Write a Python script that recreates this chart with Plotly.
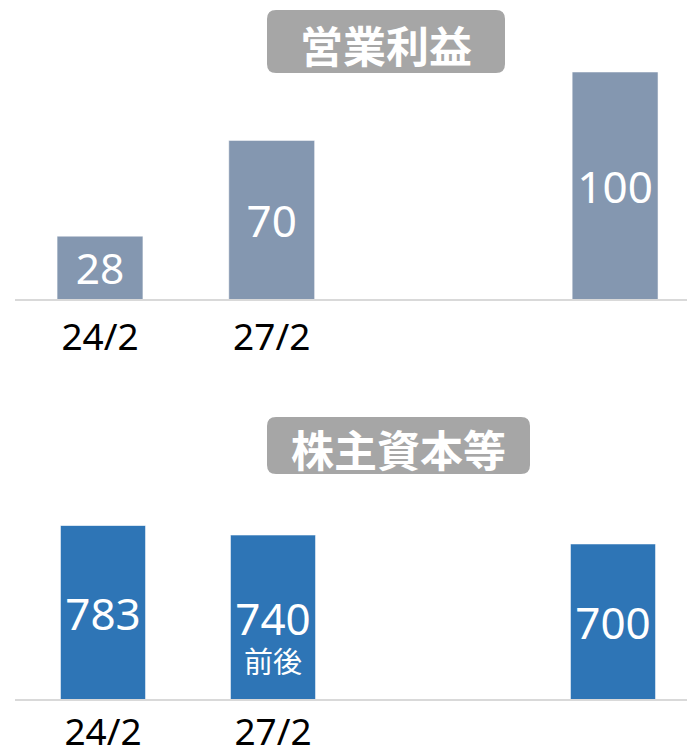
import plotly.graph_objects as go

# ---- data ----
slots = ["24/2", "27/2", "gap", "target"]          # category slots on the x axis
tick_labels = ["24/2", "27/2", "", ""]             # visible tick labels
bar_slots = ["24/2", "27/2", "target"]
op_profit = [28, 70, 100]                          # 営業利益
equity = [783, 740, 700]                           # 株主資本等
equity_notes = ["", "前後", ""]
titles = ["営業利益", "株主資本等"]

W, H = 687, 755
FONT = "Noto Sans, Noto Sans CJK JP, sans-serif"
CJK = "Noto Sans CJK JP, sans-serif"
TOP_COLOR = "#8497B0"
BOT_COLOR = "#2E75B6"
GRID = "#D9D9D9"


def px(x):
    return x / W


def py(y):
    return 1 - y / H


def rounded_rect(x0, y0, x1, y1, r):
    rx, ry = r / W, r / H
    X0, X1 = px(x0), px(x1)
    Y0, Y1 = py(y0), py(y1)  # Y0 top (greater), Y1 bottom
    return (f"M {X0+rx},{Y0} L {X1-rx},{Y0} Q {X1},{Y0} {X1},{Y0-ry} "
            f"L {X1},{Y1+ry} Q {X1},{Y1} {X1-rx},{Y1} "
            f"L {X0+rx},{Y1} Q {X0},{Y1} {X0},{Y1+ry} "
            f"L {X0},{Y0-ry} Q {X0},{Y0} {X0+rx},{Y0} Z")


fig = go.Figure()

fig.add_trace(go.Bar(
    x=bar_slots, y=op_profit, xaxis="x", yaxis="y",
    marker=dict(color=TOP_COLOR, line=dict(color="rgba(255,255,255,0.5)", width=1)),
    width=0.5,
    text=[str(v) for v in op_profit], textposition="inside",
    insidetextanchor="middle", textangle=0,
    textfont=dict(family=FONT, size=44, color="white"),
    cliponaxis=False, hoverinfo="skip",
))

fig.add_trace(go.Bar(
    x=bar_slots, y=equity, xaxis="x2", yaxis="y2",
    marker=dict(color=BOT_COLOR, line=dict(color="rgba(255,255,255,0.5)", width=1)),
    width=0.5,
    text=[str(v) for v in equity], textposition="inside",
    insidetextanchor="middle", textangle=0,
    textfont=dict(family=FONT, size=44, color="white"),
    cliponaxis=False, hoverinfo="skip",
))

xcommon = dict(
    type="category", categoryorder="array", categoryarray=slots,
    tickmode="array", tickvals=slots, ticktext=tick_labels,
    showgrid=False, zeroline=False, showline=False, ticks="",
    tickfont=dict(family=FONT, size=37, color="black"),
    fixedrange=True, automargin=False,
)

fig.update_layout(
    width=W, height=H, autosize=False,
    margin=dict(l=0, r=0, t=0, b=0, autoexpand=False),
    paper_bgcolor="white", plot_bgcolor="white",
    showlegend=False, bargap=0,
    xaxis=dict(xcommon, domain=[0, 1], range=[-100 / 171.7, (W - 100) / 171.7],
               anchor="y", ticklabelstandoff=12),
    yaxis=dict(domain=[py(300), py(72)], range=[0, max(op_profit)],
               visible=False, anchor="x", fixedrange=True, automargin=False),
    xaxis2=dict(xcommon, domain=[0, 1], range=[-103 / 170, (W - 103) / 170],
                anchor="y2", ticklabelstandoff=7),
    yaxis2=dict(domain=[py(700), py(525.5)], range=[0, max(equity)],
                visible=False, anchor="x2", fixedrange=True, automargin=False),
)

shapes = []
# baselines
for yb in (300, 700):
    shapes.append(dict(type="line", xref="paper", yref="paper",
                       x0=px(15), x1=1, y0=py(yb), y1=py(yb),
                       line=dict(color=GRID, width=2), layer="above"))
# title boxes
boxes = [(267, 10, 505, 73), (267, 417, 530, 474)]
for (x0, y0, x1, y1) in boxes:
    shapes.append(dict(type="path", xref="paper", yref="paper",
                       path=rounded_rect(x0, y0, x1, y1, 9),
                       fillcolor="#A6A6A6", line=dict(width=0), layer="above"))
fig.update_layout(shapes=shapes)

annotations = []
for t, (x0, y0, x1, y1) in zip(titles, boxes):
    annotations.append(dict(
        text=f"<b>{t}</b>", xref="paper", yref="paper",
        x=px((x0 + x1) / 2), y=py((y0 + y1) / 2 + 2),
        xanchor="center", yanchor="middle", showarrow=False,
        font=dict(family=CJK, size=43, color="white"),
    ))
for s, note in zip(bar_slots, equity_notes):
    if note:
        annotations.append(dict(
            text=note, xref="x2", yref="y2", x=s, y=0,
            xanchor="center", yanchor="bottom", yshift=17, showarrow=False,
            font=dict(family=CJK, size=29, color="white"),
        ))
fig.update_layout(annotations=annotations)

fig.write_html("out.html",
               config={"displayModeBar": False, "responsive": False,
                       "staticPlot": True},
               post_script="document.body.style.margin='0';"
                           "document.documentElement.style.overflow='hidden';")
